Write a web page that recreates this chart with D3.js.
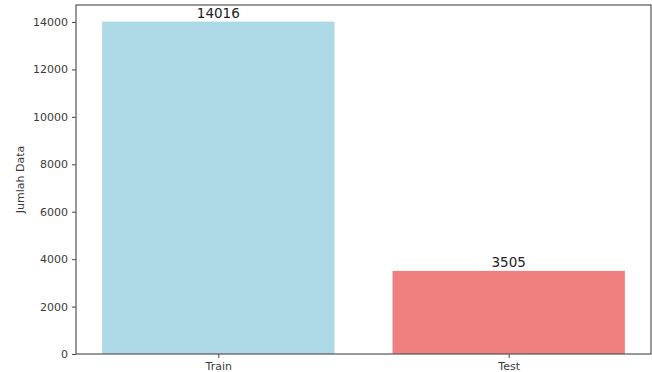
<!DOCTYPE html>
<html>
<head>
<meta charset="utf-8">
<script src="https://cdn.jsdelivr.net/npm/d3@7"></script>
<style>
  html, body { margin: 0; padding: 0; background: #fff; }
  svg { display: block; }
  text { font-family: "DejaVu Sans", sans-serif; }
</style>
</head>
<body>
<svg id="chart" width="652" height="372"></svg>
<script>
// Dataset split sizes
const categories = ["Train", "Test"];
const counts = [14016, 3505];
const barColors = ["#ADD8E6", "#F08080"];
const yTicks = [0, 2000, 4000, 6000, 8000, 10000, 12000, 14000];

const W = 652, H = 372;
const margin = { left: 76, right: 1, top: 5, bottom: 18 };
const svg = d3.select("#chart");

const x = d3.scaleLinear()
  .domain([-0.49, categories.length - 1 + 0.49])
  .range([margin.left, W - margin.right]);
const y = d3.scaleLinear()
  .domain([0, d3.max(counts) * 1.05])
  .range([H - margin.bottom, margin.top]);

const barW = 0.8;

// Bars
svg.selectAll("rect.bar")
  .data(counts)
  .join("rect")
  .attr("class", "bar")
  .attr("x", (d, i) => x(i - barW / 2))
  .attr("width", (d, i) => x(i + barW / 2) - x(i - barW / 2))
  .attr("y", d => y(d))
  .attr("height", d => y(0) - y(d))
  .attr("fill", (d, i) => barColors[i]);

// Value labels above the bars
svg.selectAll("text.val")
  .data(counts)
  .join("text")
  .attr("class", "val")
  .attr("x", (d, i) => x(i))
  .attr("y", d => y(d) - 4)
  .attr("text-anchor", "middle")
  .attr("font-size", 13.5)
  .attr("fill", "#222")
  .text(d => d);

// Y axis
const yAxis = d3.axisLeft(y).tickValues(yTicks).tickSize(4).tickPadding(4).tickFormat(d3.format("d"));
const gy = svg.append("g").attr("transform", `translate(${margin.left},0)`).call(yAxis);
gy.select(".domain").remove();
gy.selectAll("line").attr("stroke", "#444");
gy.selectAll("text").attr("font-size", 11).attr("fill", "#3a3a3a");

// X axis
const xAxis = d3.axisBottom(x).tickValues(categories.map((c, i) => i))
  .tickFormat(i => categories[i]).tickSize(4).tickPadding(4);
const gx = svg.append("g").attr("transform", `translate(0,${H - margin.bottom})`).call(xAxis);
gx.select(".domain").remove();
gx.selectAll("line").attr("stroke", "#444");
gx.selectAll("text").attr("font-size", 11).attr("fill", "#3a3a3a");

// Frame around the plot area
svg.append("rect")
  .attr("x", margin.left)
  .attr("y", margin.top)
  .attr("width", W - margin.right - margin.left)
  .attr("height", H - margin.bottom - margin.top)
  .attr("fill", "none")
  .attr("stroke", "#555")
  .attr("stroke-width", 1.2);

// Y axis title
svg.append("text")
  .attr("transform", `translate(24,${(margin.top + H - margin.bottom) / 2}) rotate(-90)`)
  .attr("text-anchor", "middle")
  .attr("font-size", 11)
  .attr("fill", "#3a3a3a")
  .text("Jumlah Data");
</script>
</body>
</html>
